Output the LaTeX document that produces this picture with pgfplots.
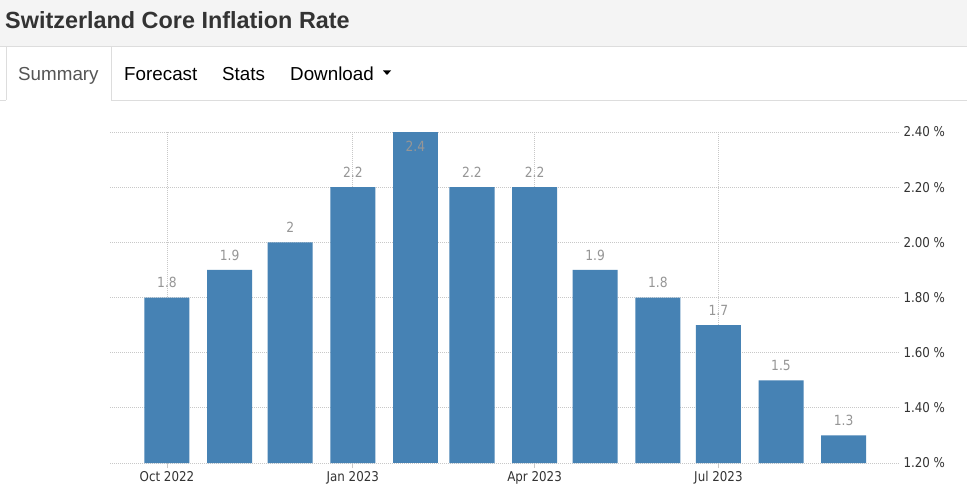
\documentclass[border=0pt]{standalone}
\usepackage{fontspec}
\usepackage{pgfplots}
\pgfplotsset{compat=1.18}
\newfontfamily\arialfont{Liberation Sans}
\newfontfamily\dejavu[FakeStretch=0.88]{DejaVu Sans}
\definecolor{barblue}{RGB}{70,130,180}
\definecolor{titlebg}{RGB}{244,244,244}
\definecolor{bordergray}{RGB}{221,221,221}
\definecolor{txtdark}{RGB}{51,51,51}
\definecolor{tabgray}{RGB}{85,85,85}
\definecolor{lblgray}{RGB}{150,150,150}
\definecolor{gridgray}{RGB}{200,200,200}
\begin{document}
\begin{tikzpicture}
\useasboundingbox (0,0) rectangle (967pt,-487pt);
\fill[white] (0,0) rectangle (967pt,-487pt);
\fill[titlebg] (0,0) rectangle (967pt,-47pt);
\draw[bordergray, line width=1pt] (0,-47pt) -- (967pt,-47pt);
\draw[bordergray, line width=1pt] (6pt,-47pt) -- (6pt,-100pt);
\draw[bordergray, line width=1pt] (111pt,-47pt) -- (111pt,-100pt);
\draw[bordergray, line width=1pt] (0,-100pt) -- (6pt,-100pt);
\draw[bordergray, line width=1pt] (111pt,-100pt) -- (967pt,-100pt);
\node[anchor=base west, inner sep=0, text=txtdark] at (5pt,-29pt) {\arialfont\bfseries\fontsize{23.4pt}{23.4pt}\selectfont Switzerland Core Inflation Rate};
\node[anchor=base west, inner sep=0, text=tabgray] at (18pt,-81pt) {\arialfont\fontsize{18.8pt}{18.8pt}\selectfont Summary};
\node[anchor=base west, inner sep=0, text=black] at (124pt,-81pt) {\arialfont\fontsize{18.8pt}{18.8pt}\selectfont Forecast};
\node[anchor=base west, inner sep=0, text=black] at (222pt,-81pt) {\arialfont\fontsize{18.8pt}{18.8pt}\selectfont Stats};
\node[anchor=base west, inner sep=0, text=black] at (290pt,-81pt) {\arialfont\fontsize{18.8pt}{18.8pt}\selectfont Download};
\fill[black] (383pt,-70.5pt) -- (391pt,-70.5pt) -- (387pt,-75pt) -- cycle;
\begin{axis}[
  at={(110pt,-463pt)}, anchor=south west,
  scale only axis, width=789pt, height=331pt,
  xmin=-28.2, xmax=362.4, ymin=1.2, ymax=2.4,
  ybar,
  axis line style={draw=none},
  xtick={0,92,182,273},
  xticklabels={Oct 2022,Jan 2023,Apr 2023,Jul 2023},
  ytick={1.2,1.4,1.6,1.8,2.0,2.2,2.4},
  yticklabels={1.20 \%,1.40 \%,1.60 \%,1.80 \%,2.00 \%,2.20 \%,2.40 \%},
  yticklabel pos=right, ytick pos=right, xtick pos=left,
  xmajorgrids, ymajorgrids,
  grid style={gridgray, dash pattern=on 1pt off 1pt, line width=0.8pt},
  tick align=outside,
  xtick style={gridgray, line width=0.8pt},
  major tick length=5pt,
  ytick style={draw=none},
  ticklabel style={font=\dejavu\fontsize{13.5pt}{13.5pt}\selectfont, text=txtdark},
  yticklabel style={xshift=-4pt},
  /pgf/number format/assume math mode=true,
]
\addplot[fill=barblue, draw=none, bar width=22.3, bar shift=0pt,
  nodes near coords,
  every node near coord/.append style={font=\dejavu\fontsize{14pt}{14pt}\selectfont, text=lblgray, anchor=center, yshift=15pt}]
  coordinates {(0,1.8) (31,1.9) (61,2.0) (92,2.2) (151,2.2) (182,2.2) (212,1.9) (243,1.8) (273,1.7) (304,1.5) (335,1.3)};
\addplot[fill=barblue, draw=none, bar width=22.3, bar shift=0pt,
  nodes near coords,
  every node near coord/.append style={font=\dejavu\fontsize{14pt}{14pt}\selectfont, text=lblgray, anchor=center, yshift=-14.7pt}]
  coordinates {(123,2.4)};
\end{axis}
\end{tikzpicture}
\end{document}
